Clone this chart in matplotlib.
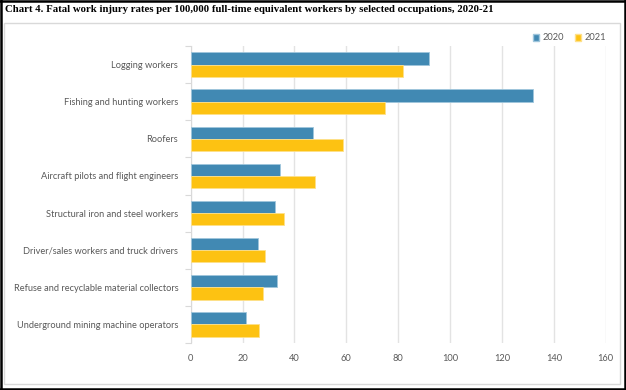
import numpy as np
import matplotlib.pyplot as plt
from matplotlib.patches import Rectangle, Patch
from matplotlib.lines import Line2D

occupations = ['Logging workers', 'Fishing and hunting workers', 'Roofers',
               'Aircraft pilots and flight engineers', 'Structural iron and steel workers',
               'Driver/sales workers and truck drivers',
               'Refuse and recyclable material collectors',
               'Underground mining machine operators']
rate_2020 = [91.7, 132.1, 47.0, 34.3, 32.5, 25.8, 33.1, 21.5]
rate_2021 = [82.0, 75.0, 58.8, 48.0, 36.1, 28.7, 27.8, 26.5]
years = ['2020', '2021']
xticks = [0, 20, 40, 60, 80, 100, 120, 140, 160]

blue = '#4189b3'
yellow = '#fdc212'
gray_txt = '#595959'
fs = 6.7

W, H = 626, 390
fig = plt.figure(figsize=(W / 100, H / 100), dpi=100)
fig.patch.set_facecolor('white')

# frame and border
fig.patches.append(Rectangle((4 / W, (H - 384) / H), 616 / W, 361 / H, transform=fig.transFigure,
                             fill=False, edgecolor='#d9d9d9', lw=1.0))
for xs, ys in [([1 / W, 1 / W], [0, 1]), ([624.5 / W, 624.5 / W], [0, 1]),
               ([0, 1], [1.2 / H, 1.2 / H]), ([0, 1], [1 - 0.6 / H, 1 - 0.6 / H])]:
    fig.lines.append(Line2D(xs, ys, transform=fig.transFigure, color='black', lw=1.8))

fig.text(5 / W, 1 - 10 / H, 'Chart 4. Fatal work injury rates per 100,000 full-time equivalent workers by selected occupations, 2020-21',
         family='Liberation Serif', weight='bold', fontsize=7.75, va='center', ha='left')

left, right, top, bottom = 190.7, 605.7, 46, 343
ax = fig.add_axes([left / W, (H - bottom) / H, (right - left) / W, (bottom - top) / H])

y = np.arange(len(occupations))
h = 0.33
ax.barh(y - h / 2, rate_2020, height=h, color=blue, edgecolor='#9fc6dc', lw=0.6, zorder=3)
ax.barh(y + h / 2, rate_2021, height=h, color=yellow, edgecolor='#fee08a', lw=0.6, zorder=3)

ax.set_xlim(0, 160)
ax.set_ylim(len(occupations) - 0.5, -0.5)
ax.set_xticks(xticks)
ax.set_yticks(y)
ax.set_yticklabels(occupations)
ax.set_yticks(np.arange(-0.5, len(occupations) + 0.5, 1), minor=True)
ax.tick_params(axis='y', which='major', length=0, pad=9, labelsize=fs, labelcolor=gray_txt)
ax.tick_params(axis='y', which='minor', length=4, color='#d9d9d9', width=0.8)
ax.tick_params(axis='x', length=0, pad=8, labelsize=fs, labelcolor=gray_txt)
for lab in ax.get_yticklabels() + ax.get_xticklabels():
    lab.set_family('Lato')

ax.grid(axis='x', color='#e3e3e3', lw=1.0, zorder=0)
for s in ['top', 'right', 'bottom']:
    ax.spines[s].set_visible(False)
ax.spines['left'].set_color('#d9d9d9')
ax.spines['left'].set_linewidth(0.8)

handles = [Patch(facecolor=blue, edgecolor='#9fc6dc'), Patch(facecolor=yellow, edgecolor='#fee08a')]
fig.legend(handles, years, loc='center right', bbox_to_anchor=(614 / W, 1 - 38 / H), ncol=2,
           frameon=False, handlelength=0.7, handleheight=0.7, handletextpad=0.3, columnspacing=1.2,
           prop={'family': 'Lato', 'size': fs}, labelcolor=gray_txt)

fig.savefig('out.png', dpi=100)
